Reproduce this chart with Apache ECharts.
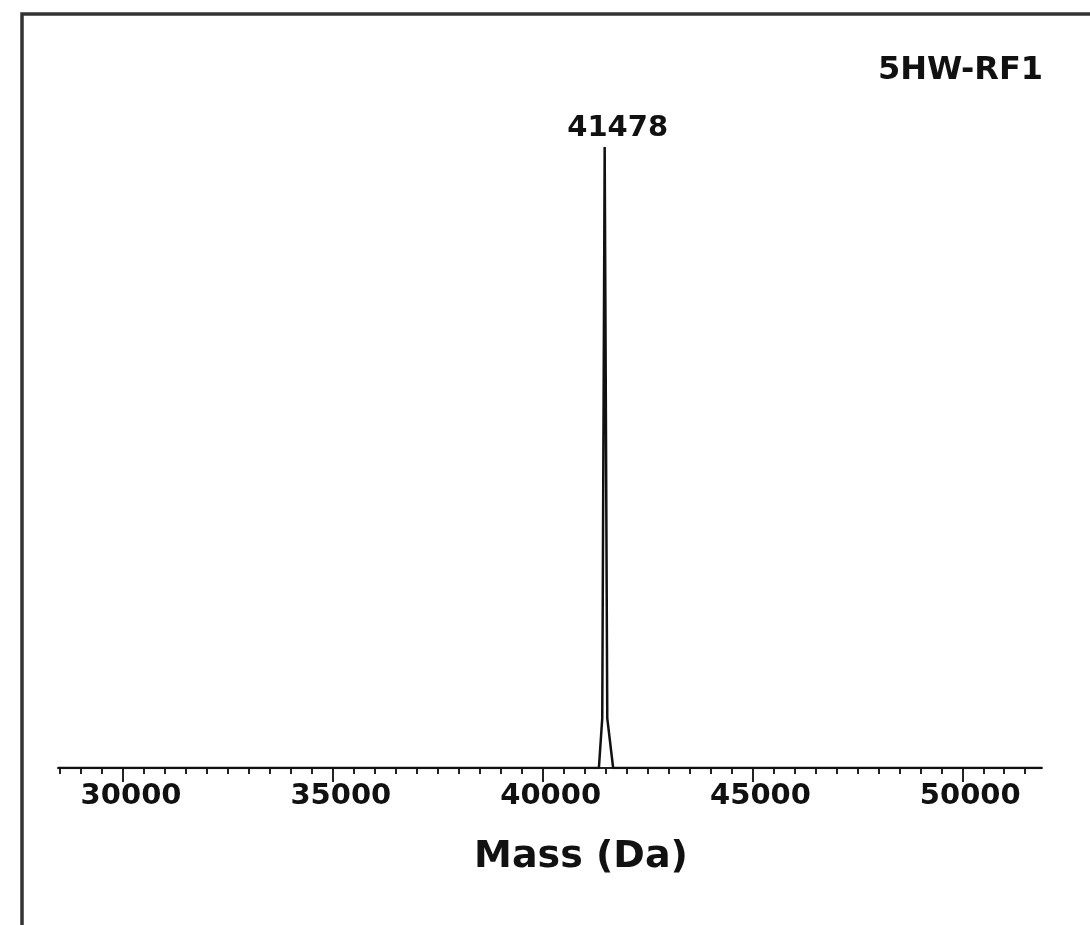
<!DOCTYPE html>
<html>
<head>
<meta charset="utf-8">
<script src="https://cdn.jsdelivr.net/npm/echarts@6/dist/echarts.min.js"></script>
<style>
    html, body { margin: 0; padding: 0; background: #fff; }
    #chart { width: 1090px; height: 925px; }
</style>
</head>
<body>
<div id="chart"></div>
<script>
    // 数据
    const sampleName = '5HW-RF1';
    const peakLabel = '41478';
    const massDa = [28450, 41340, 41420, 41478, 41540, 41680, 51900];
    const intensity = [0, 0, 8, 100, 8, 0, 0];
    const majorTicks = [30000, 35000, 40000, 45000, 50000];
    const axisMin = 28450;
    const axisMax = 51900;

    // 小刻度，每 500 一个
    let minorTicks = [];
    for (let v = 28500; v <= 51500; v += 500) minorTicks.push(v);

    const font = '"DejaVu Sans", sans-serif';
    let myChart = echarts.init(document.getElementById('chart'));

    let points = massDa.map((m, i) => {
        let p = { value: [m, intensity[i]] };
        if (m === 41478) {
            p.label = {
                show: true,
                position: 'top',
                distance: 4,
                offset: [13, 0],
                formatter: peakLabel,
                fontFamily: font,
                fontWeight: 'bold',
                fontSize: 29,
                color: '#111'
            };
        }
        return p;
    });

    let option = {
        backgroundColor: '#fff',
        animation: false,
        title: {
            text: sampleName,
            right: 42,
            top: 50,
            textStyle: {
                fontFamily: font,
                fontWeight: 'bold',
                fontSize: 32,
                color: '#111'
            }
        },
        graphic: [
            {
                type: 'rect',
                shape: { x: 22, y: 14, width: 1200, height: 1000 },
                style: { fill: 'none', stroke: '#333', lineWidth: 3.5 },
                silent: true
            }
        ],
        grid: {
            left: 58,
            right: 48,
            top: 147,
            bottom: 157
        },
        xAxis: [
            {
                type: 'value',
                min: axisMin,
                max: axisMax,
                splitLine: { show: false },
                axisLine: { show: true, lineStyle: { color: '#222', width: 2 } },
                axisTick: {
                    show: true,
                    customValues: minorTicks,
                    length: 6,
                    lineStyle: { color: '#222', width: 2 }
                },
                axisLabel: {
                    customValues: majorTicks,
                    formatter: v => String(v),
                    margin: 14,
                    padding: [0, 0, 0, 16],
                    fontFamily: font,
                    fontWeight: 'bold',
                    fontSize: 29,
                    color: '#111'
                },
                name: 'Mass (Da)',
                nameLocation: 'middle',
                nameGap: 70,
                nameTextStyle: {
                    fontFamily: font,
                    fontWeight: 'bold',
                    fontSize: 38,
                    color: '#111',
                    padding: [0, 0, 0, 62]
                }
            },
            {
                type: 'value',
                min: axisMin,
                max: axisMax,
                position: 'bottom',
                splitLine: { show: false },
                axisLine: { show: false },
                axisTick: {
                    show: true,
                    customValues: majorTicks,
                    length: 14,
                    lineStyle: { color: '#222', width: 2 }
                },
                axisLabel: { show: false }
            }
        ],
        yAxis: {
            type: 'value',
            min: 0,
            max: 100,
            show: false
        },
        series: [
            {
                type: 'line',
                data: points,
                symbol: 'circle',
                symbolSize: 0,
                showAllSymbol: true,
                lineStyle: { color: '#111', width: 2.5 },
                itemStyle: { color: '#111' },
                z: 3
            }
        ]
    };
    myChart.setOption(option);
</script>
</body>
</html>
